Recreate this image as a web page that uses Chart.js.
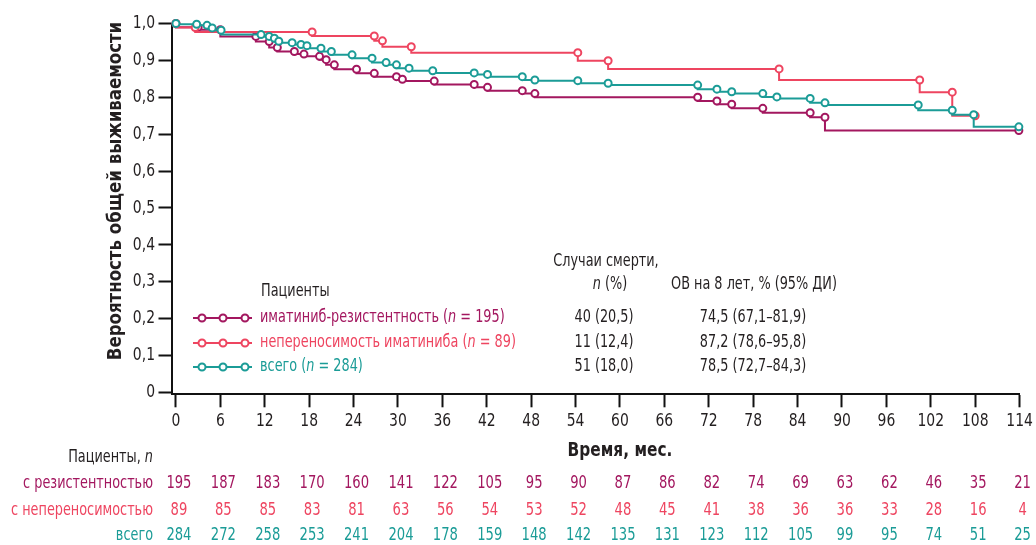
<!DOCTYPE html>
<html>
<head>
<meta charset="utf-8">
<script src="https://cdn.jsdelivr.net/npm/chart.js@4.4.1/dist/chart.umd.min.js"></script>
<style>
  html, body { margin: 0; padding: 0; background: #ffffff; }
  #wrap { width: 1036px; height: 545px; position: relative; }
</style>
</head>
<body>
<div id="wrap"><canvas id="km"></canvas></div>
<script>
// Kaplan–Meier overall survival by patient group
const FONT = '"Liberation Sans Narrow", "DejaVu Sans Condensed", "Roboto", sans-serif';
const SQUEEZE = 0.84; // horizontal condensing of annotation text

const monthTicks = [0, 6, 12, 18, 24, 30, 36, 42, 48, 54, 60, 66, 72, 78, 84, 90, 96, 102, 108, 114];
const survivalTicks = [0, 0.1, 0.2, 0.3, 0.4, 0.5, 0.6, 0.7, 0.8, 0.9, 1.0];
const survivalTickLabels = ['0', '0,1', '0,2', '0,3', '0,4', '0,5', '0,6', '0,7', '0,8', '0,9', '1,0'];

// imatinib-resistant group: event times (months) and survival after each step
const resistTime = [0, 3, 6, 10.8, 12.6, 13.7, 16, 17.3, 19.4, 20.3, 21.4, 24.4, 26.8, 29.8, 30.6, 34.9, 40.3, 42.1, 46.8, 48.5, 70.5, 73.1, 75.1, 79.3, 85.7, 87.7, 113.9];
const resistSurv = [1.0, 0.99, 0.983, 0.965, 0.951, 0.935, 0.924, 0.917, 0.911, 0.902, 0.888, 0.876, 0.865, 0.856, 0.849, 0.844, 0.835, 0.827, 0.818, 0.81, 0.8, 0.79, 0.781, 0.77, 0.758, 0.746, 0.71];

// imatinib-intolerant group
const intolTime = [0, 2.6, 18.4, 26.8, 27.9, 31.8, 54.3, 58.4, 81.5, 100.5, 104.9, 108];
const intolSurv = [1.0, 0.989, 0.977, 0.966, 0.953, 0.937, 0.921, 0.899, 0.877, 0.847, 0.814, 0.75];

// all patients
const totalTime = [0, 2.8, 4.2, 4.9, 6.1, 11.5, 12.6, 13.3, 13.9, 15.7, 16.9, 17.7, 19.6, 21, 23.8, 26.5, 28.4, 29.8, 31.5, 34.7, 40.3, 42.1, 46.8, 48.5, 54.3, 58.4, 70.5, 73.1, 75.1, 79.3, 81.2, 85.7, 87.7, 100.3, 104.9, 107.8, 113.9];
const totalSurv = [1.0, 0.998, 0.995, 0.988, 0.982, 0.97, 0.965, 0.96, 0.952, 0.948, 0.943, 0.94, 0.933, 0.924, 0.915, 0.906, 0.894, 0.888, 0.879, 0.872, 0.866, 0.862, 0.856, 0.847, 0.845, 0.838, 0.833, 0.822, 0.815, 0.81, 0.801, 0.797, 0.785, 0.779, 0.765, 0.753, 0.72];

// patients at risk at each tick
const atRiskResist = [195, 187, 183, 170, 160, 141, 122, 105, 95, 90, 87, 86, 82, 74, 69, 63, 62, 46, 35, 21];
const atRiskIntol = [89, 85, 85, 83, 81, 63, 56, 54, 53, 52, 48, 45, 41, 38, 36, 36, 33, 28, 16, 4];
const atRiskTotal = [284, 272, 258, 253, 241, 204, 178, 159, 148, 142, 135, 131, 123, 112, 105, 99, 95, 74, 51, 25];

const groupNames = ['иматиниб-резистентность', 'непереносимость иматиниба', 'всего'];
const groupN = [195, 89, 284];
const deathsText = ['40 (20,5)', '11 (12,4)', '51 (18,0)'];
const os8Text = ['74,5 (67,1–81,9)', '87,2 (78,6–95,8)', '78,5 (72,7–84,3)'];
const atRiskRowNames = ['с резистентностью', 'с непереносимостью', 'всего'];

const COLORS = ['#a3175f', '#ee4560', '#1b9c97'];
const TEXT = '#231f20';

const toPoints = (ts, ss) => ts.map((t, i) => ({ x: t, y: ss[i] }));

function survivalSet(label, ts, ss, color) {
  return {
    label,
    data: toPoints(ts, ss),
    stepped: 'after',
    borderColor: color,
    borderWidth: 2,
    pointRadius: 3.5,
    pointBorderWidth: 2,
    pointBorderColor: color,
    pointBackgroundColor: '#ffffff',
    fill: false,
    clip: false
  };
}

// text run made of [string, fontPrefix] pieces, condensed horizontally
function drawRun(ctx, parts, x, y, align, color, size, squeeze) {
  const sq = squeeze || SQUEEZE;
  let w = 0;
  parts.forEach(([t, style]) => {
    ctx.font = style + size + 'px ' + FONT;
    w += ctx.measureText(t).width;
  });
  w *= sq;
  let start = x;
  if (align === 'center') start = x - w / 2;
  else if (align === 'right') start = x - w;
  ctx.save();
  ctx.translate(start, y);
  ctx.scale(sq, 1);
  ctx.textAlign = 'left';
  ctx.textBaseline = 'middle';
  ctx.fillStyle = color;
  let cx = 0;
  parts.forEach(([t, style]) => {
    ctx.font = style + size + 'px ' + FONT;
    ctx.fillText(t, cx, 0);
    cx += ctx.measureText(t).width;
  });
  ctx.restore();
}

const txt = (ctx, s, x, y, align, color, size, style, squeeze) =>
  drawRun(ctx, [[s, style || '']], x, y, align, color, size || 17, squeeze);

// Tick labels, legend, summary columns, axis titles and the at-risk table
const annotations = {
  id: 'annotations',
  afterDraw(chart) {
    const ctx = chart.ctx;
    const xs = chart.scales.x;
    const ys = chart.scales.y;
    ctx.save();

    // tick labels placed by the scales
    monthTicks.forEach(v => txt(ctx, String(v), xs.getPixelForValue(v), 421, 'center', TEXT, 18, '', 0.86));
    survivalTicks.forEach((v, i) => txt(ctx, survivalTickLabels[i], 155, ys.getPixelForValue(v), 'right', TEXT, 18, '', 0.86));

    // y-axis title
    ctx.save();
    ctx.translate(116, 191);
    ctx.rotate(-Math.PI / 2);
    txt(ctx, 'Вероятность общей выживаемости', 0, 0, 'center', TEXT, 19, 'bold ', 0.97);
    ctx.restore();

    // x-axis title
    txt(ctx, 'Время, мес.', 620, 451, 'center', TEXT, 19, 'bold ', 0.9);

    // legend block
    const rowY = [318, 343, 367];
    txt(ctx, 'Пациенты', 261, 292, 'left', TEXT);

    groupNames.forEach((name, i) => {
      const y = rowY[i];
      const c = COLORS[i];
      ctx.strokeStyle = c;
      ctx.lineWidth = 2;
      ctx.beginPath();
      ctx.moveTo(193, y);
      ctx.lineTo(252, y);
      ctx.stroke();
      [202, 223, 245].forEach(cx => {
        ctx.beginPath();
        ctx.arc(cx, y, 3.5, 0, Math.PI * 2);
        ctx.fillStyle = '#ffffff';
        ctx.fill();
        ctx.stroke();
      });
      drawRun(ctx, [[name + ' (', ''], ['n', 'italic '], [' = ' + groupN[i] + ')', '']], 260, y, 'left', c, 17);
    });

    // deaths and 8-year OS columns
    txt(ctx, 'Случаи смерти,', 606, 262, 'center', TEXT);
    drawRun(ctx, [['n', 'italic '], [' (%)', '']], 610, 285, 'center', TEXT, 17);
    txt(ctx, 'ОВ на 8 лет, % (95% ДИ)', 754, 285, 'center', TEXT);
    deathsText.forEach((t, i) => txt(ctx, t, 604, rowY[i], 'center', TEXT));
    os8Text.forEach((t, i) => txt(ctx, t, 753, rowY[i], 'center', TEXT));

    // number at risk
    drawRun(ctx, [['Пациенты, ', ''], ['n', 'italic ']], 153, 458, 'right', TEXT, 17);
    const riskRows = [atRiskResist, atRiskIntol, atRiskTotal];
    const riskY = [484, 511, 536];
    riskRows.forEach((row, r) => {
      txt(ctx, atRiskRowNames[r], 153, riskY[r], 'right', COLORS[r]);
      row.forEach((v, k) => {
        txt(ctx, String(v), xs.getPixelForValue(monthTicks[k]) + 3, riskY[r], 'center', COLORS[r], 17, '', 0.86);
      });
    });
    ctx.restore();
  }
};

new Chart(document.getElementById('km'), {
  type: 'line',
  data: {
    datasets: [
      survivalSet('всего', totalTime, totalSurv, COLORS[2]),
      survivalSet('непереносимость иматиниба', intolTime, intolSurv, COLORS[1]),
      survivalSet('иматиниб-резистентность', resistTime, resistSurv, COLORS[0])
    ]
  },
  options: {
    responsive: true,
    maintainAspectRatio: false,
    animation: false,
    events: [],
    layout: { padding: { top: 23.5, right: 16.4, bottom: 0, left: 0 } },
    plugins: {
      legend: { display: false },
      tooltip: { enabled: false },
      title: { display: false }
    },
    scales: {
      x: {
        type: 'linear',
        min: -0.6,
        max: 114,
        afterFit(scale) { scale.height = 150.7; },
        afterBuildTicks(scale) { scale.ticks = monthTicks.map(v => ({ value: v })); },
        grid: { drawOnChartArea: false, drawTicks: true, tickLength: 13, tickWidth: 2, tickColor: '#111' },
        border: { display: true, color: '#111', width: 2 },
        ticks: { display: false, autoSkip: false }
      },
      y: {
        type: 'linear',
        min: -0.005,
        max: 1.0,
        afterFit(scale) { scale.width = 171.5; },
        afterBuildTicks(scale) { scale.ticks = survivalTicks.map(v => ({ value: v })); },
        grid: { drawOnChartArea: false, drawTicks: true, tickLength: 13, tickWidth: 2, tickColor: '#111' },
        border: { display: true, color: '#111', width: 2 },
        ticks: { display: false, autoSkip: false }
      }
    }
  },
  plugins: [annotations]
});
</script>
</body>
</html>
